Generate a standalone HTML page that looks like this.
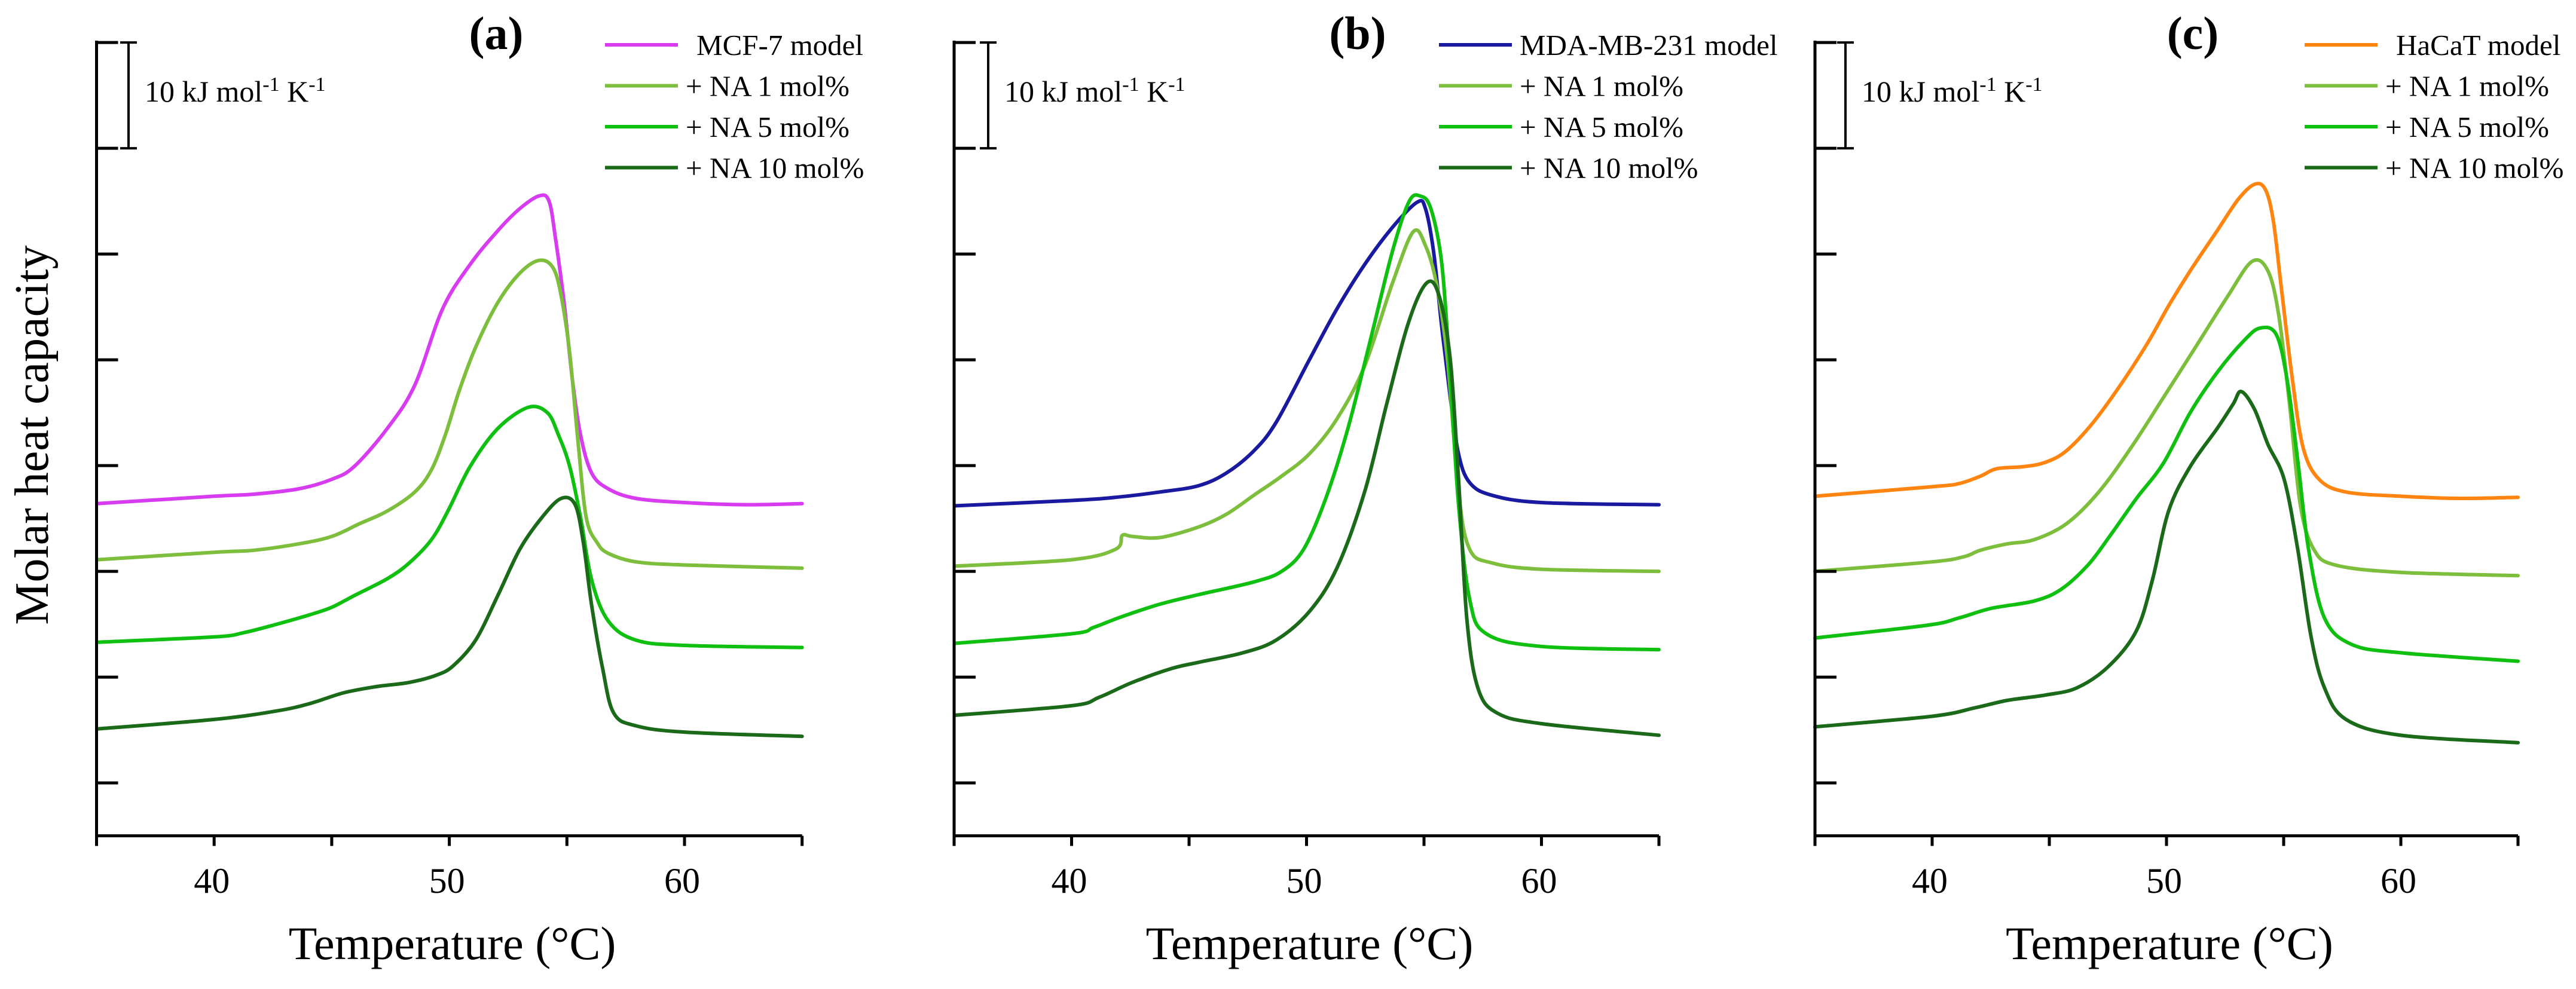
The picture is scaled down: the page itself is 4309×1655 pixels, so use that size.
<!DOCTYPE html>
<html><head><meta charset="utf-8"><style>
html,body{margin:0;padding:0;background:#fff;}
svg{display:block;font-family:"Liberation Serif",serif;}
</style></head><body>
<svg id="chart" width="4309" height="1655" viewBox="0 0 4309 1655" xmlns="http://www.w3.org/2000/svg">
<rect width="4309" height="1655" fill="#fff"/>
<text transform="translate(80,728) rotate(-90)" text-anchor="middle" font-size="80">Molar heat capacity</text>
</svg>
<script>
// Temperature axis tick values
const xTicks = [35, 40, 45, 50, 55, 60, 65];
const xTickLabels = [40, 50, 60];
const yTicks = [5, 15, 25, 35, 45, 55, 65, 75];
const legendLabels = [
  ["MCF-7 model", "+ NA 1 mol%", "+ NA 5 mol%", "+ NA 10 mol%"],
  ["MDA-MB-231 model", "+ NA 1 mol%", "+ NA 5 mol%", "+ NA 10 mol%"],
  ["HaCaT model", "+ NA 1 mol%", "+ NA 5 mol%", "+ NA 10 mol%"]
];
const panelLabels = ["(a)", "(b)", "(c)"];
// Panel a
const aModelT = [35.02,40,41.72,43.6,45,45.95,47.36,48.53,49.71,50.88,52.06,53,53.82,54.24,54.52,54.88,55.23,55.58,56.05,56.76,57.93,60,62.63,65];
const aModelV = [31.4,32.1,32.3,32.8,33.7,34.9,38.5,42.6,49.8,54.0,57.2,59.3,60.5,60.0,56.4,50.4,43.2,37.9,34.3,32.8,31.9,31.5,31.3,31.4];
const aNA1T = [35.02,40,41.72,43.6,45,46.18,47.36,48.53,49.24,49.83,50.41,51.12,52.06,53,53.82,54.41,54.76,55.12,55.47,55.82,56.29,56.76,57.93,60,65];
const aNA1V = [26.1,26.8,27.0,27.6,28.3,29.5,30.7,32.5,34.6,37.9,42.0,46.2,50.4,53.2,54.4,53.7,51.0,45.6,37.3,30.1,27.7,26.7,25.9,25.6,25.3];
const aNA5T = [35.02,40,41.25,42.66,44.07,45,45.95,47.36,48.3,49.24,49.94,50.88,52.06,53.35,54.17,54.64,55.12,55.58,56.05,56.76,57.93,60,65];
const aNA5V = [18.3,18.8,19.2,20.0,20.9,21.6,22.7,24.3,25.8,28.0,30.7,34.9,38.5,40.5,40.0,37.9,34.9,30.1,24.2,20.3,18.5,18.0,17.8];
const aNA10T = [35.02,40,42.66,44.07,45.48,46.89,48.3,49.47,50.18,51.12,52.06,53,53.94,54.76,55.35,55.7,56.05,56.52,56.99,57.93,60,65];
const aNA10V = [10.1,11.0,11.8,12.5,13.5,14.1,14.5,15.2,16.1,18.5,22.7,27.1,30.1,31.9,31.3,27.7,21.8,15.8,11.6,10.4,9.8,9.4];
// Panel b
const bModelT = [35.06,40,41.88,43.76,45.41,46.59,47.76,48.71,50.12,51.29,52.47,53.65,54.71,55.06,55.41,55.76,56.12,56.47,56.94,57.88,60,65];
const bModelV = [31.2,31.7,32.0,32.5,33.1,34.3,36.4,39.1,45.0,49.8,54.0,57.5,59.9,59.3,55.2,48.0,41.4,36.1,33.4,32.2,31.5,31.3];
const bNA1T = [35.06,40,41.88,42.16,42.59,43.76,45.41,46.59,47.76,48.94,50.12,51.29,52.47,53.65,54.54,55.06,55.53,56.0,56.47,56.94,57.88,60,65];
const bNA1V = [25.5,26.1,27.1,28.4,28.3,28.2,29.2,30.4,32.2,34.0,36.1,39.4,44.4,52.2,57.1,55.8,52.2,45.0,32.5,27.1,25.8,25.2,25.0];
const bNA5T = [35.06,40,40.94,42.12,43.76,45.41,47.76,48.94,49.88,50.82,51.76,52.71,53.65,54.35,54.82,55.29,55.76,56.12,56.47,56.94,57.65,60,65];
const bNA5V = [18.2,19.1,19.7,20.7,21.9,22.8,24.0,25.0,27.1,31.9,38.5,46.8,55.2,59.9,60.5,59.3,54.0,43.2,31.3,22.4,19.1,17.9,17.6];
const bNA10T = [35.06,40,41.18,42.59,44.24,45.41,47.29,48.71,50.12,51.29,52.47,53.41,54.35,55.13,55.65,56.12,56.47,56.82,57.29,58.12,60,65];
const bNA10V = [11.4,12.3,13.1,14.5,15.8,16.4,17.3,18.5,21.2,25.3,32.5,40.8,48.6,52.3,51.0,45.0,33.7,20.6,14.0,11.6,10.6,9.5];
// Panel c
const cModelT = [35,40,41.15,42.06,42.75,43.9,44.82,45.73,46.88,48.03,49.17,50.09,51.01,52.16,53.07,53.76,54.22,54.56,54.91,55.37,55.83,56.51,57.66,60,62.48,65];
const cModelV = [32.1,33.0,33.3,34.0,34.7,34.9,35.3,36.4,39.1,42.6,46.5,50.1,53.4,57.2,60.2,61.6,61.1,58.1,51.6,43.2,36.7,33.7,32.5,32.1,31.9,32.0];
const cNA1T = [35,40,41.38,42.06,43.21,44.36,45.73,47.11,48.49,49.86,51.24,52.61,53.65,54.33,54.79,55.25,55.71,56.28,57.2,60,65];
const cNA1V = [25.0,25.9,26.4,27.0,27.6,28.0,29.5,32.5,36.7,41.4,46.2,51.0,54.3,53.4,49.2,40.8,31.3,27.1,25.6,24.9,24.6];
const cNA5T = [35,39.77,41.15,42.52,44.36,45.5,46.65,47.57,48.72,49.86,51.01,52.16,53.3,53.99,54.68,55.14,55.6,56.06,56.74,57.89,60,65];
const cNA5V = [18.7,19.9,20.6,21.5,22.2,23.3,25.6,28.3,31.9,35.2,40.0,43.8,46.8,48.0,47.4,43.2,35.5,27.1,20.6,18.1,17.3,16.5];
const cNA10T = [35,40,41.83,43.21,44.82,46.19,47.57,48.72,49.4,50.09,51.01,52.16,52.84,53.19,53.76,54.33,55.02,55.6,56.17,56.74,57.66,60,65];
const cNA10V = [10.3,11.3,12.1,12.8,13.3,14.0,16.1,19.4,24.2,30.7,34.9,38.5,40.8,42.0,40.3,37.0,33.7,27.1,18.8,14.0,11.0,9.5,8.8];

const NS = "http://www.w3.org/2000/svg";
const svg = document.getElementById("chart");
const colors = [["#d83cf0","#7dbe3c","#10c010","#1a6a1a"],["#1a1aa0","#7dbe3c","#10c010","#1a6a1a"],["#ff8510","#7dbe3c","#10c010","#1a6a1a"]];
const seriesT = [[aModelT,aNA1T,aNA5T,aNA10T],[bModelT,bNA1T,bNA5T,bNA10T],[cModelT,cNA1T,cNA5T,cNA10T]];
const seriesV = [[aModelV,aNA1V,aNA5V,aNA10V],[bModelV,bNA1V,bNA5V,bNA10V],[cModelV,cNA1V,cNA5V,cNA10V]];
const panels = [
  {x0:161.5,k:39.34,legX:1012,labX:830,barX:215,name:"a"},
  {x0:1596,k:39.3,legX:2407,labX:2271,barX:1653,name:"b"},
  {x0:3036,k:39.2,legX:3855,labX:3668,barX:3087,name:"c"}
];
const yBase = 1398.6, yk = 17.7;
function yS(v){return yBase - v*yk;}
function mk(tag, attrs, parent){const e=document.createElementNS(NS,tag);for(const a in attrs)e.setAttribute(a,attrs[a]);(parent||svg).appendChild(e);return e;}
function smoothPath(pts){
  let d="M"+pts[0][0].toFixed(1)+","+pts[0][1].toFixed(1);
  for(let i=0;i<pts.length-1;i++){
    const p0=pts[Math.max(0,i-1)],p1=pts[i],p2=pts[i+1],p3=pts[Math.min(pts.length-1,i+2)];
    const c1x=p1[0]+(p2[0]-p0[0])/6,c1y=p1[1]+(p2[1]-p0[1])/6;
    const c2x=p2[0]-(p3[0]-p1[0])/6,c2y=p2[1]-(p3[1]-p1[1])/6;
    d+=" C"+c1x.toFixed(1)+","+c1y.toFixed(1)+" "+c2x.toFixed(1)+","+c2y.toFixed(1)+" "+p2[0].toFixed(1)+","+p2[1].toFixed(1);
  }
  return d;
}
panels.forEach((p,pi)=>{
  const xS=t=>p.x0+(t-35)*p.k;
  const g=mk("g",{});
  
  
  for(let s=0;s<4;s++){
    const pts=seriesT[pi][s].map((t,i)=>[xS(t),yS(seriesV[pi][s][i])]);
    const path=mk("path",{d:smoothPath(pts),fill:"none",stroke:colors[pi][s],"stroke-width":6,"stroke-linejoin":"round","stroke-linecap":"round"},g);
    
    
  }
  const ya=mk("line",{x1:xS(35),y1:68,x2:xS(35),y2:yBase,stroke:"#000","stroke-width":5},g);
  
  
  const xa=mk("line",{x1:xS(35)-2.5,y1:yBase,x2:xS(65),y2:yBase,stroke:"#000","stroke-width":5},g);
  
  
  yTicks.forEach(v=>{
    const t=mk("line",{x1:xS(35),y1:yS(v),x2:xS(35)+36,y2:yS(v),stroke:"#000","stroke-width":5},g);
    
    
  });
  xTicks.forEach(v=>{
    const t=mk("line",{x1:xS(v),y1:yBase,x2:xS(v),y2:yBase+17,stroke:"#000","stroke-width":5},g);
    
    
  });
  xTickLabels.forEach(v=>{
    const t=mk("text",{x:xS(v)-4,y:1494,"text-anchor":"middle","font-size":60},g);
    
    
    t.textContent=v;
  });
  const xt=mk("text",{x:xS(50)+5,y:1605,"text-anchor":"middle","font-size":78},g);
  
  
  xt.textContent="Temperature (°C)";
  const pl=mk("text",{x:p.labX,y:82,"text-anchor":"middle","font-size":78,"font-weight":"bold"},g);
  
  
  pl.textContent=panelLabels[pi];
  const sb=mk("path",{d:`M${p.barX-14},${yS(75)} H${p.barX+14} M${p.barX},${yS(75)} V${yS(65)} M${p.barX-14},${yS(65)} H${p.barX+14}`,stroke:"#000","stroke-width":4,fill:"none"},g);
  
  
  const st=mk("text",{x:p.barX+27,y:170,"font-size":50},g);
  
  
  st.innerHTML='10 kJ mol<tspan dy="-18" font-size="34">-1</tspan><tspan dy="18"> K</tspan><tspan dy="-18" font-size="34">-1</tspan>';
  for(let s=0;s<4;s++){
    const ly=75+s*68.5;
    const ll=mk("line",{x1:p.legX,y1:ly,x2:p.legX+122,y2:ly,stroke:colors[pi][s],"stroke-width":6},g);
    
    
    const lt=mk("text",{x:p.legX+(s===0&&pi!==1?153:135),y:ly+17,"font-size":49},g);
    
    
    lt.textContent=legendLabels[pi][s];
  }
});
</script>
</body></html>
